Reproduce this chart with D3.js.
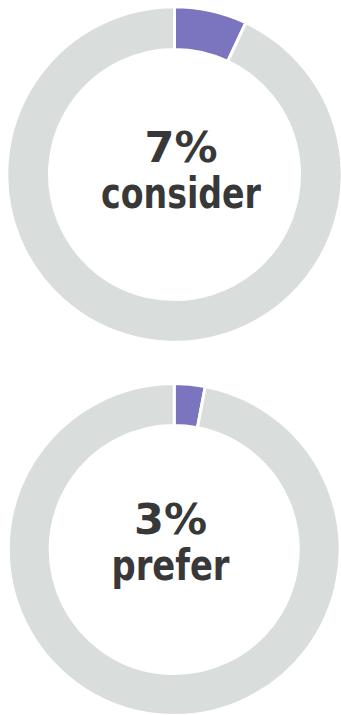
<!DOCTYPE html>
<html>
<head>
<meta charset="utf-8">
<script src="https://cdn.jsdelivr.net/npm/d3@7"></script>
<style>
  html, body { margin: 0; padding: 0; background: #ffffff; }
  svg { display: block; }
</style>
</head>
<body>
<svg id="chart" width="341" height="715"></svg>
<script>
// ---- data ----
const labels = ["consider", "prefer"];
const shares = [7, 3];            // percent
const valueLabels = ["7%", "3%"];

// ---- layout ----
const W = 341, H = 715;
const donuts = [
  { cx: 174.5, cy: 174.5, outer: 166.2, inner: 126.5, tx: 181, numDy: -12.8, labDy: 33.8, labW: 160 },
  { cx: 174.2, cy: 549.5, outer: 164.4, inner: 125.5, tx: 170.5, numDy: -15.2, labDy: 30.5, labW: 118 }
];
const stroke = 3;
const colors = d3.scaleOrdinal().domain(["share", "rest"]).range(["#7b74bf", "#d9dddc"]);

const svg = d3.select("#chart");
const pie = d3.pie().sort(null).value(d => d.v);

shares.forEach((s, i) => {
  const cfg = donuts[i];
  const g = svg.append("g").attr("transform", `translate(${cfg.cx},${cfg.cy})`);
  const arc = d3.arc()
    .innerRadius(cfg.inner - stroke / 2)
    .outerRadius(cfg.outer + stroke / 2);
  const data = [{ k: "share", v: s }, { k: "rest", v: 100 - s }];
  g.selectAll("path").data(pie(data)).join("path")
    .attr("d", arc)
    .attr("fill", d => colors(d.data.k))
    .attr("stroke", "#ffffff")
    .attr("stroke-width", stroke);

  const t = svg.append("g").attr("transform", `translate(${cfg.tx},${cfg.cy})`);
  t.append("text")
    .attr("y", cfg.numDy)
    .attr("text-anchor", "middle")
    .attr("font-family", "'DejaVu Sans', Verdana, sans-serif")
    .attr("font-weight", "bold")
    .attr("font-size", 43)
    .attr("fill", "#383838")
    .text(valueLabels[i]);
  t.append("text")
    .attr("y", cfg.labDy)
    .attr("text-anchor", "middle")
    .attr("font-family", "'DejaVu Sans Condensed', 'DejaVu Sans', sans-serif")
    .attr("font-weight", "bold")
    .attr("font-size", 43)
    .attr("fill", "#383838")
    .attr("textLength", cfg.labW)
    .attr("lengthAdjust", "spacingAndGlyphs")
    .text(labels[i]);
});
</script>
</body>
</html>
